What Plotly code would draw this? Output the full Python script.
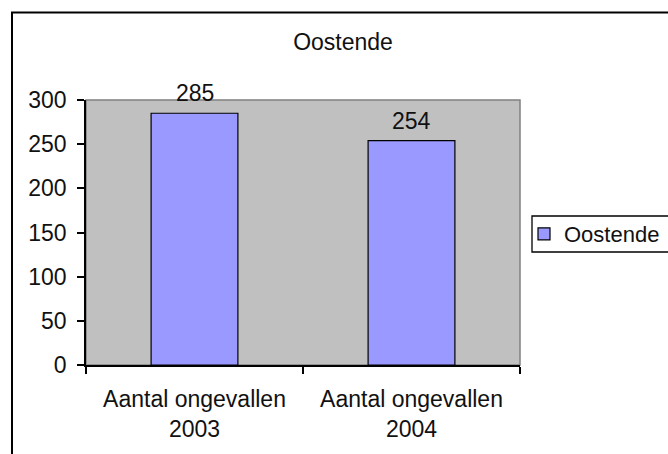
import plotly.graph_objects as go

categories = ["Aantal ongevallen<br>2003", "Aantal ongevallen<br>2004"]
values = [285, 254]
series_name = "Oostende"
title_text = "Oostende"
y_ticks = [0, 50, 100, 150, 200, 250, 300]

W, H = 668, 454
L, R, T, B = 86, 520, 100, 365
FONT = dict(family="Liberation Sans, Arial, sans-serif", size=23, color="#111111")
LEG_FONT = dict(family="Liberation Sans, Arial, sans-serif", size=22, color="#111111")

fig = go.Figure()
fig.add_trace(go.Bar(
    x=categories, y=values, name=series_name, width=0.4,
    marker=dict(color="#9999FF", line=dict(color="#000000", width=1.2)),
    showlegend=True,
))

for c, v in zip(categories, values):
    fig.add_annotation(x=c, y=v, text=str(v), showarrow=False, yanchor="bottom",
                       yshift=5, font=FONT)

pw, ph = R - L, B - T
def px(x):
    return (x - L) / pw
def py(y):
    return (B - y) / ph

# plot-area frame (gray on top/right)
fig.add_shape(type="rect", xref="paper", yref="paper", x0=0, x1=1, y0=0, y1=1,
              line=dict(color="#808080", width=1.5), layer="below")
# outer chart border
fig.add_shape(type="rect", xref="paper", yref="paper",
              x0=px(12), x1=px(680), y0=py(470), y1=py(12.5),
              line=dict(color="#000000", width=2))
# legend frame
fig.add_shape(type="rect", xref="paper", yref="paper",
              x0=px(532), x1=px(675), y0=py(252), y1=py(216),
              line=dict(color="#000000", width=1.3))

fig.update_layout(
    width=W, height=H,
    margin=dict(l=L, r=W - R, t=T, b=H - B, autoexpand=False),
    paper_bgcolor="white", plot_bgcolor="#C0C0C0",
    font=FONT,
    title=dict(text=title_text, font=FONT, xref="container", yref="container",
               x=343 / W, xanchor="center", y=1 - 42 / H, yanchor="middle"),
    showlegend=True,
    legend=dict(x=px(524), xanchor="left", y=py(234), yanchor="middle",
                borderwidth=0, bgcolor="rgba(0,0,0,0)",
                font=LEG_FONT, itemwidth=30),
    bargap=0.6,
)
fig.update_yaxes(range=[0, 300], tickvals=y_ticks, showgrid=False, zeroline=False,
                 showline=True, linecolor="#000000", linewidth=1.5,
                 ticks="outside", ticklen=7, tickcolor="#000000", tickwidth=1.5,
                 ticklabelstandoff=6, tickfont=FONT)
fig.update_xaxes(showgrid=False, showline=True, linecolor="#000000", linewidth=1.5,
                 ticks="outside", ticklen=7, tickcolor="#000000", tickwidth=1.5,
                 tickson="boundaries", ticklabelstandoff=13, tickfont=FONT)

fig.write_html("out.html", config={"displayModeBar": False},
               post_script="document.body.style.margin='0';")
